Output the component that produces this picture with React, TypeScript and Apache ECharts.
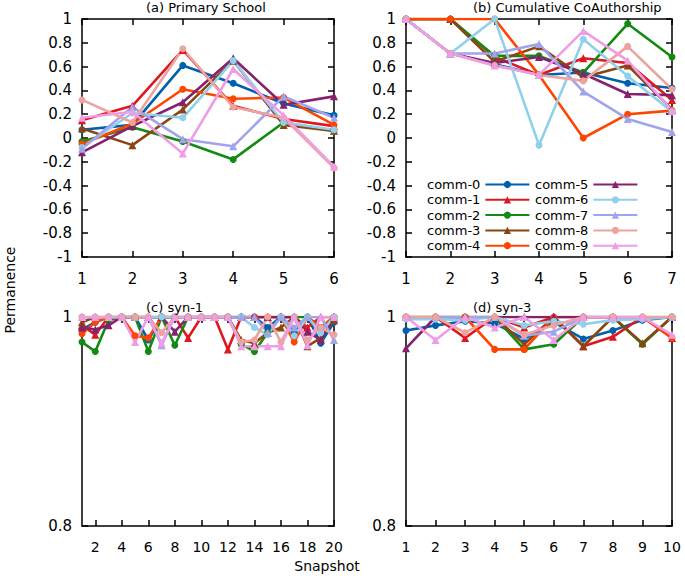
import React, { useEffect, useRef } from "react";
import * as echarts from "echarts";

const NAMES = ["comm-0", "comm-1", "comm-2", "comm-3", "comm-4", "comm-5", "comm-6", "comm-7", "comm-8", "comm-9"];
const COLORS = ["#0060ad", "#dd181f", "#138a13", "#8b4513", "#ff4500", "#85226d", "#8fd0ec", "#a0a4ec", "#eda39f", "#ee9de6"];
const SYMBOLS = ["circle", "triangle", "circle", "triangle", "circle", "triangle", "circle", "triangle", "circle", "triangle"];

// x values (snapshots)
const X_A = [1, 2, 3, 4, 5, 6];
const X_B = [1, 2, 3, 4, 5, 6, 7];
const X_C = [1, 2, 3, 4, 5, 6, 7, 8, 9, 10, 11, 12, 13, 14, 15, 16, 17, 18, 19, 20];
const X_D = [1, 2, 3, 4, 5, 6, 7, 8, 9, 10];

// tick labels
const Y_TICKS_AB = [-1, -0.8, -0.6, -0.4, -0.2, 0, 0.2, 0.4, 0.6, 0.8, 1];
const Y_TICKS_CD = [0.8, 1];
const X_TICKS_A = [1, 2, 3, 4, 5, 6];
const X_TICKS_B = [1, 2, 3, 4, 5, 6, 7];
const X_TICKS_C = [2, 4, 6, 8, 10, 12, 14, 16, 18, 20];
const X_TICKS_D = [1, 2, 3, 4, 5, 6, 7, 8, 9, 10];

// (a) Primary School: one row per community
const primarySchool = [
  [0.07, 0.11, 0.61, 0.46, 0.29, 0.19],
  [0.15, 0.27, 0.74, 0.27, 0.16, 0.1],
  [-0.03, 0.09, -0.03, -0.18, 0.13, 0.06],
  [0.08, -0.06, 0.24, 0.65, 0.11, 0.06],
  [-0.05, 0.12, 0.41, 0.33, 0.34, 0.11],
  [-0.12, 0.1, 0.3, 0.67, 0.28, 0.35],
  [-0.08, 0.21, 0.17, 0.65, 0.13, 0.07],
  [-0.09, 0.26, -0.01, -0.07, 0.35, 0.17],
  [0.32, 0.13, 0.75, 0.26, 0.17, -0.25],
  [0.17, 0.22, -0.13, 0.58, 0.19, -0.24],
];

// (b) Cumulative CoAuthorship
const coAuthorship = [
  [1, 0.71, 0.62, 0.53, 0.55, 0.46, 0.42],
  [1, 1, 0.68, 0.53, 0.67, 0.63, 0.32],
  [1, 1, 0.69, 0.69, 0.55, 0.96, 0.68],
  [1, 1, 0.64, 0.77, 0.51, 0.61, 0.24],
  [1, 1, 1, 0.53, 0.0, 0.2, 0.23],
  [1, 0.71, 0.63, 0.68, 0.54, 0.37, 0.36],
  [1, 0.71, 1, -0.06, 0.83, 0.52, 0.22],
  [1, 0.71, 0.71, 0.79, 0.39, 0.16, 0.05],
  [1, 0.71, 0.61, 0.53, 0.48, 0.77, 0.41],
  [1, 0.71, 0.61, 0.53, 0.9, 0.65, 0.23],
];

// (c) syn-1
const syn1 = [
  [0.988, 0.995, 1, 1, 1, 0.978, 1, 1, 1, 1, 1, 1, 1, 1, 0.99, 1, 0.985, 1, 0.975, 0.995],
  [0.992, 0.983, 1, 1, 1, 1, 1, 1, 0.98, 1, 1, 0.969, 1, 1, 1, 1, 1, 0.99, 1, 1],
  [0.976, 0.967, 0.997, 1, 1, 0.967, 1, 0.973, 1, 1, 1, 1, 0.974, 0.967, 0.985, 1, 1, 1, 0.99, 1],
  [0.995, 1, 1, 1, 1, 1, 1, 1, 1, 1, 1, 1, 0.978, 0.975, 0.985, 0.99, 1, 0.972, 0.98, 0.997],
  [0.984, 0.995, 1, 1, 0.982, 0.98, 1, 1, 1, 1, 1, 1, 1, 1, 1, 1, 0.976, 1, 0.99, 1],
  [0.99, 0.988, 0.992, 1, 1, 1, 1, 0.986, 1, 1, 1, 1, 1, 1, 1, 1, 1, 0.986, 0.978, 1],
  [1, 1, 1, 1, 1, 1, 1, 1, 1, 1, 1, 1, 1, 0.99, 0.983, 1, 0.982, 1, 0.985, 1],
  [1, 1, 1, 1, 1, 1, 0.973, 1, 1, 1, 1, 1, 1, 1, 0.985, 1, 0.99, 1, 1, 0.978],
  [1, 1, 1, 1, 1, 1, 0.985, 1, 1, 1, 1, 1, 0.976, 0.978, 1, 0.976, 1, 0.978, 0.99, 0.983],
  [1, 1, 1, 1, 0.976, 1, 0.975, 1, 1, 1, 1, 1, 0.972, 0.972, 0.972, 0.972, 1, 0.973, 1, 1],
];

// (d) syn-3
const syn3 = [
  [0.987, 0.992, 0.996, 0.994, 0.979, 0.995, 0.979, 0.987, 0.997, 1],
  [1, 1, 0.98, 1, 0.99, 1, 0.972, 0.981, 1, 0.98],
  [1, 1, 1, 1, 0.969, 0.974, 1, 1, 0.974, 1],
  [1, 1, 1, 1, 0.974, 1, 0.972, 1, 0.975, 1],
  [1, 1, 1, 0.969, 0.969, 1, 1, 1, 1, 0.98],
  [0.97, 1, 1, 1, 1, 1, 1, 1, 1, 1],
  [0.998, 0.998, 0.997, 1, 0.992, 0.996, 0.993, 0.997, 0.998, 1],
  [1, 1, 1, 1, 0.982, 0.986, 1, 1, 1, 1],
  [1, 1, 0.985, 1, 0.983, 0.992, 1, 1, 1, 1],
  [1, 0.978, 1, 0.99, 1, 0.978, 1, 1, 1, 0.983],
];

const FONT = "DejaVu Sans";
const lineStyle = { color: "#000", width: 1.5 };

function xAxes(gridIndex: number, min: number, max: number, ticks: number[], fontSize: number) {
  const base = {
    type: "value",
    gridIndex,
    min,
    max,
    axisLine: { show: true, onZero: false, lineStyle },
    axisTick: { show: true, inside: true, length: 6, customValues: ticks, lineStyle },
    splitLine: { show: false },
  };
  return [
    {
      ...base,
      position: "bottom",
      axisLabel: { customValues: ticks, margin: 14, fontSize, color: "#000", fontFamily: FONT },
    },
    { ...base, position: "top", axisLabel: { show: false } },
  ];
}

function yAxes(gridIndex: number, min: number, max: number, ticks: number[]) {
  const base = {
    type: "value",
    gridIndex,
    min,
    max,
    axisLine: { show: true, onZero: false, lineStyle },
    axisTick: { show: true, inside: true, length: 6, customValues: ticks, lineStyle },
    splitLine: { show: false },
  };
  return [
    {
      ...base,
      position: "left",
      axisLabel: {
        customValues: ticks,
        margin: 10,
        fontSize: 15,
        color: "#000",
        fontFamily: FONT,
        formatter: (v: number) => String(Math.round(v * 10) / 10),
      },
    },
    { ...base, position: "right", axisLabel: { show: false } },
  ];
}

function panelSeries(gridIdx: number, xs: number[], rows: number[][]) {
  return rows.map((row, k) => ({
    type: "line",
    name: NAMES[k],
    xAxisIndex: gridIdx * 2,
    yAxisIndex: gridIdx * 2,
    data: xs.map((x, i) => [x, row[i]]),
    symbol: SYMBOLS[k],
    symbolSize: SYMBOLS[k] === "circle" ? 7 : 8,
    showSymbol: true,
    color: COLORS[k],
    lineStyle: { width: 2.6, color: COLORS[k] },
    itemStyle: { color: COLORS[k] },
    emphasis: { disabled: true },
  }));
}

export default function App() {
  const ref = useRef<HTMLDivElement>(null);
  useEffect(() => {
    if (!ref.current) return;
    const chart = echarts.init(ref.current, null, { renderer: "svg" });
    const titleStyle = { fontSize: 13, fontWeight: "normal", color: "#000", fontFamily: FONT };
    const legendBase = {
      orient: "vertical",
      align: "right",
      itemWidth: 44,
      itemHeight: 9,
      itemGap: 2.3,
      padding: 0,
      textStyle: { fontSize: 13, color: "#000", fontFamily: FONT, lineHeight: 13 },
      selectedMode: false,
    };
    chart.setOption({
      animation: false,
      backgroundColor: "#fff",
      title: [
        { text: "(a) Primary School", left: 146, top: 1, padding: 0, textStyle: titleStyle },
        { text: "(b) Cumulative CoAuthorship", left: 473, top: 1, padding: 0, textStyle: titleStyle },
        { text: "(c) syn-1", left: 146, top: 301, padding: 0, textStyle: titleStyle },
        { text: "(d) syn-3", left: 473, top: 301, padding: 0, textStyle: titleStyle },
      ],
      legend: [
        { ...legendBase, left: 427, top: 178, data: NAMES.slice(0, 5) },
        { ...legendBase, left: 535, top: 178, data: NAMES.slice(5) },
      ],
      grid: [
        { left: 82, top: 19, width: 252, height: 238 },
        { left: 406, top: 19, width: 266, height: 238 },
        { left: 82, top: 317, width: 252, height: 209 },
        { left: 406, top: 317, width: 266, height: 209 },
      ],
      xAxis: [
        ...xAxes(0, 1, 6, X_TICKS_A, 15),
        ...xAxes(1, 1, 7, X_TICKS_B, 15),
        ...xAxes(2, 1, 20, X_TICKS_C, 14),
        ...xAxes(3, 1, 10, X_TICKS_D, 14),
      ],
      yAxis: [
        ...yAxes(0, -1, 1, Y_TICKS_AB),
        ...yAxes(1, -1, 1, Y_TICKS_AB),
        ...yAxes(2, 0.8, 1, Y_TICKS_CD),
        ...yAxes(3, 0.8, 1, Y_TICKS_CD),
      ],
      graphic: [
        {
          type: "text",
          x: 10,
          y: 290,
          rotation: Math.PI / 2,
          style: {
            text: "Permanence",
            fontSize: 14,
            fontFamily: FONT,
            fill: "#000",
            textAlign: "center",
            textVerticalAlign: "middle",
          },
        },
        {
          type: "text",
          x: 327,
          y: 566,
          style: {
            text: "Snapshot",
            fontSize: 14,
            fontFamily: FONT,
            fill: "#000",
            textAlign: "center",
            textVerticalAlign: "middle",
          },
        },
      ],
      series: [
        ...panelSeries(0, X_A, primarySchool),
        ...panelSeries(1, X_B, coAuthorship),
        ...panelSeries(2, X_C, syn1),
        ...panelSeries(3, X_D, syn3),
      ],
    });
    return () => chart.dispose();
  }, []);
  return (
    <div
      ref={ref}
      style={{ position: "absolute", left: 0, top: 0, width: 685, height: 576 }}
    />
  );
}
